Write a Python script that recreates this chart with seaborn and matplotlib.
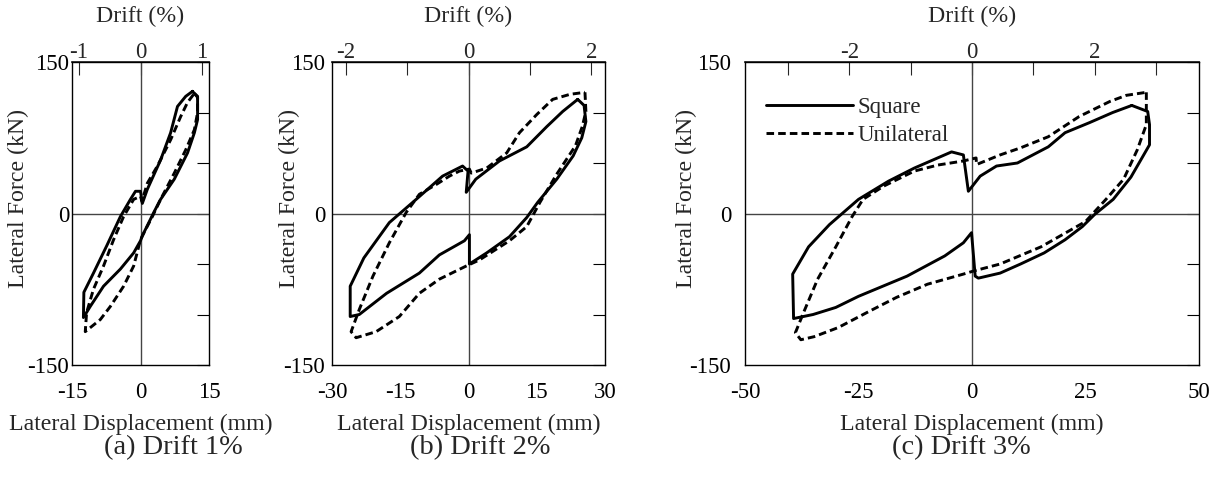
import numpy as np
import matplotlib
matplotlib.use("Agg")
import matplotlib.pyplot as plt
import seaborn as sns

# hysteresis loops (mm, kN), one closed loop per case
a_square_x = [11.4, 12.5, 12.5, 11.8, 10.3, 7.4, 4.4, 2.9, 1.5, 0.4, 0.0, -1.5, -4.4, -8.1, -11.0, -12.5,
              -12.4, -10.3, -7.4, -4.4, -2.2, -1.1, 0.0, 0.4, 1.5, 4.4, 6.6, 8.1, 9.9, 11.4]
a_square_y = [121, 115, 93, 80, 60, 34, 14, 1, -12, -22, -27, -39, -55, -72, -92, -103,
              -78, -59, -32, -3, 14, 22, 22, 10, 24, 53, 80, 106, 116, 121]
a_uni_x = [11.8, 12.5, 12.5, 11.8, 9.9, 7.4, 4.4, 2.6, 1.1, 0.0, -1.5, -3.7, -6.6, -8.8, -11.0, -12.1,
           -11.8, -10.3, -8.1, -5.9, -3.7, -1.5, 0.0, 0.3, 1.5, 3.7, 6.6, 8.8, 10.3, 11.8]
a_uni_y = [119, 116, 100, 83, 63, 40, 14, -3, -16, -26, -52, -72, -92, -105, -113, -117,
           -98, -75, -52, -26, -3, 14, 17, 12, 30, 47, 73, 96, 110, 119]

b_square_x = [24.0, 25.4, 25.8, 24.9, 23.0, 19.4, 15.2, 12.8, 9.0, 4.0, 0.2, 0.2, -0.9, -6.4, -10.8, -18.0,
              -24.0, -26.0, -26.0, -23.0, -17.4, -11.5, -5.7, -1.3, -0.1, -0.5, 1.6, 6.8, 12.8, 17.2, 20.7, 24.0]
b_square_y = [113, 107, 91, 75, 57, 34, 11, -4, -23, -39, -50, -21, -27, -41, -59, -79,
              -100, -102, -72, -44, -9, 14, 37, 47, 42, 21, 34, 52, 66, 86, 101, 113]
b_uni_x = [25.6, 25.8, 25.0, 23.5, 19.4, 15.7, 12.8, 9.0, 2.4, -0.5, -6.4, -10.8, -15.2, -20.3, -24.7,
           -25.8, -24.0, -21.0, -17.4, -13.7, -10.8, -7.0, -4.2, -2.0, 0.2, 0.6, 4.0, 8.4, 11.2, 15.0,
           18.5, 22.3, 25.6]
b_uni_y = [120, 101, 86, 67, 39, 11, -13, -27, -46, -52, -65, -79, -102, -117, -123,
           -117, -95, -62, -29, 1, 19, 29, 37, 42, 44, 40, 45, 60, 80, 98,
           113, 118, 120]

c_square_x = [35.2, 38.7, 39.1, 39.1, 35.0, 31.1, 27.0, 24.3, 20.5, 15.9, 10.7, 6.2, 1.4, 0.7, -0.1,
              -1.9, -6.0, -14.3, -25.0, -30.0, -35.0, -39.3, -39.5, -36.0, -31.4, -25.0, -18.4, -12.7,
              -4.5, -1.9, -0.8, 1.8, 5.4, 10.0, 16.8, 20.5, 25.9, 31.0, 35.2]
c_square_y = [107, 101, 88, 68, 36, 14, -1, -13, -26, -39, -50, -59, -64, -62, -19,
              -29, -42, -62, -82, -93, -100, -104, -60, -33, -11, 14, 32, 45,
              61, 58, 22, 37, 47, 50, 66, 80, 90, 100, 107]
c_uni_x = [38.4, 38.4, 38.4, 36.4, 33.4, 29.5, 25.0, 15.2, 6.2, 0.3, -1.9, -9.8, -16.6, -22.7, -29.5,
           -34.8, -37.7, -38.9, -37.0, -34.0, -30.0, -26.4, -24.0, -19.5, -12.7, -7.5, -1.9, 0.9,
           1.0, 6.2, 10.7, 16.8, 23.6, 30.4, 34.0, 38.4]
c_uni_y = [120, 100, 88, 63, 34, 14, -8, -33, -50, -57, -60, -70, -83, -97, -113,
           -122, -125, -118, -97, -65, -33, -3, 14, 27, 42, 48, 52, 55,
           48.5, 58, 65, 76, 96, 111, 117, 120]

panels = [
    dict(sx=a_square_x, sy=a_square_y, ux=a_uni_x, uy=a_uni_y, lim=15,
         xt=[-15, -7.5, 0, 7.5, 15], xl=["-15", "", "0", "", "15"],
         dt=[-1, 0, 1], dl=["-1", "0", "1"], cap="(a) Drift 1%"),
    dict(sx=b_square_x, sy=b_square_y, ux=b_uni_x, uy=b_uni_y, lim=30,
         xt=[-30, -15, 0, 15, 30], xl=["-30", "-15", "0", "15", "30"],
         dt=[-2, -1, 0, 1, 2], dl=["-2", "", "0", "", "2"], cap="(b) Drift 2%"),
    dict(sx=c_square_x, sy=c_square_y, ux=c_uni_x, uy=c_uni_y, lim=50,
         xt=[-50, -25, 0, 25, 50], xl=["-50", "-25", "0", "25", "50"],
         dt=[-3, -2, -1, 0, 1, 2, 3], dl=["", "-2", "", "0", "", "2", ""], cap="(c) Drift 3%"),
]

MM_PER_PCT = 13.5  # column height ~1350 mm

sns.set_theme(style="white")
plt.rcParams["font.family"] = ["Liberation Serif", "DejaVu Serif"]
plt.rcParams["axes.unicode_minus"] = False

W, H = 1230, 478
fig = plt.figure(figsize=(W / 100, H / 100), dpi=100)

# axes boxes in pixels: left, right ; all share top=62, bottom=365
boxes = [(72, 209), (332, 605), (745, 1199)]
ylab_x = [18, 289, 686]
ypads = [2, 5, 10]
cap_x = [173, 480, 961]

for p, (x0, x1), yx, yp, cx in zip(panels, boxes, ylab_x, ypads, cap_x):
    ax = fig.add_axes([x0 / W, (H - 365) / H, (x1 - x0) / W, 303 / H])
    ax.axhline(0, color="#444444", lw=1.0, zorder=1)
    ax.axvline(0, color="#444444", lw=1.0, zorder=1)
    sns.lineplot(x=p["ux"], y=p["uy"], sort=False, estimator=None, color="black",
                 lw=2.1, linestyle=(0, (2.6, 1.4)), ax=ax, label="Unilateral", legend=False)
    sns.lineplot(x=p["sx"], y=p["sy"], sort=False, estimator=None, color="black",
                 lw=2.1, ax=ax, label="Square", legend=False)

    ax.set_xlim(-p["lim"], p["lim"])
    ax.set_ylim(-150, 150)
    ax.set_xticks(p["xt"])
    ax.set_xticklabels(p["xl"])
    ax.set_yticks([-150, -100, -50, 0, 50, 100, 150])
    ax.set_yticklabels(["-150", "", "", "0", "", "", "150"])
    ax.tick_params(direction="in", length=9, width=0.8, labelsize=16.5, right=True,
                   colors="black")
    ax.tick_params(axis="x", pad=12)
    ax.tick_params(axis="y", pad=yp)
    for s in ax.spines.values():
        s.set_color("black")
        s.set_linewidth(1.0)

    ax.set_xlabel("Lateral Displacement (mm)", fontsize=17.2, labelpad=8)
    ax.set_ylabel("Lateral Force (kN)", fontsize=17.2)
    ax.yaxis.set_label_coords((yx - x0) / (x1 - x0), (365 - 198) / 303)
    ax.yaxis.label.set_verticalalignment("center")

    sec = ax.secondary_xaxis("top", functions=(lambda v: v / MM_PER_PCT, lambda d: d * MM_PER_PCT))
    sec.set_xticks(p["dt"])
    sec.set_xticklabels(p["dl"])
    sec.tick_params(direction="in", length=9, width=0.8, labelsize=16.5, pad=-1)
    sec.set_xlabel("Drift (%)", fontsize=17.2, labelpad=15)

    fig.text(cx / W, 1 - 448 / H, p["cap"], fontsize=20.4, ha="center", va="center")

    if p["cap"].startswith("(c)"):
        h, l = ax.get_legend_handles_labels()
        ax.legend(h[::-1], l[::-1], loc="upper left", bbox_to_anchor=(0.025, 0.915),
                  frameon=False, fontsize=16.5, handlelength=3.8, handletextpad=0.2,
                  labelspacing=0.3, borderaxespad=0)

fig.savefig("out.png", dpi=100)
